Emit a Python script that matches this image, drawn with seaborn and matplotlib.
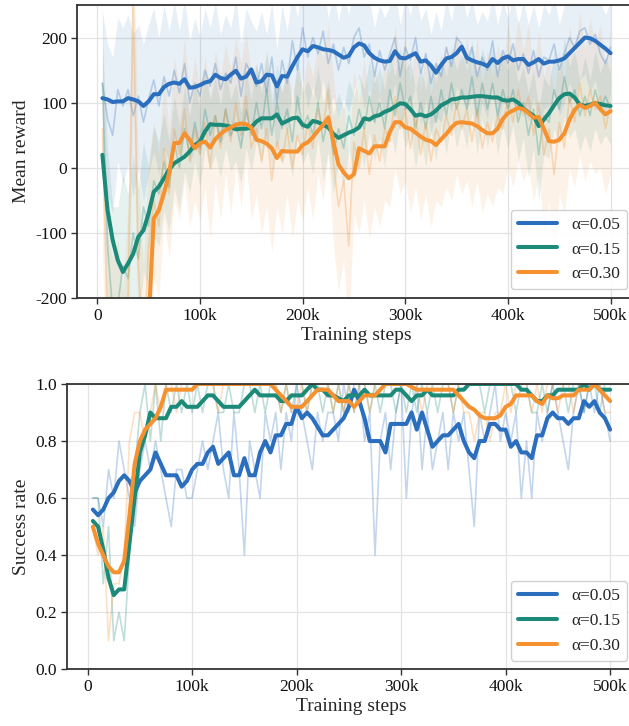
import matplotlib
matplotlib.use("Agg")
import matplotlib.pyplot as plt
import numpy as np
import pandas as pd
import seaborn as sns

sns.set_theme(style="whitegrid")
plt.rcParams['font.family'] = ['Liberation Serif', 'DejaVu Serif']
plt.rcParams['axes.unicode_minus'] = False

# training steps (every 5k)
steps = list(range(5000, 500001, 5000))

labels = ["α=0.05", "α=0.15", "α=0.30"]
colors = ["#2a6ebd", "#1b8a79", "#f5912f"]

# ---- mean reward (top) ----
reward_blue = [107, 105, 101, 102, 102, 107, 105, 102, 95, 102,
               113, 113, 124, 129, 131, 129, 136, 123, 124, 127,
               131, 133, 143, 138, 136, 143, 149, 137, 140, 151,
               131, 133, 143, 142, 125, 141, 140, 156, 170, 182,
               179, 187, 185, 182, 181, 179, 174, 169, 172, 185,
               191, 188, 176, 169, 165, 163, 164, 179, 169, 168,
               172, 176, 163, 165, 157, 146, 158, 168, 170, 176,
               186, 169, 165, 162, 160, 156, 167, 161, 168, 171,
               165, 167, 167, 158, 162, 167, 160, 163, 163, 165,
               168, 176, 184, 192, 200, 199, 195, 189, 183, 176]
reward_teal = [20, -65, -111, -142, -160, -147, -132, -106, -96, -70,
               -37, -29, -16, -3, 7, 12, 17, 25, 35, 40,
               56, 67, 66, 66, 65, 63, 59, 60, 60, 62,
               71, 76, 76, 76, 82, 68, 72, 76, 77, 66,
               63, 72, 70, 66, 62, 52, 46, 50, 54, 57,
               62, 76, 74, 79, 81, 86, 89, 94, 99, 98,
               90, 80, 82, 79, 82, 88, 96, 100, 105, 106,
               108, 108, 109, 110, 110, 109, 108, 108, 104, 103,
               105, 100, 91, 85, 80, 64, 74, 84, 96, 107,
               113, 114, 108, 97, 95, 97, 99, 98, 96, 95]
reward_orange = [-380, -420, -450, -470, -480, -470, -440, -400, -330, -240,
                 -78, -65, -39, -8, 38, 38, 53, 43, 30, 38,
                 40, 31, 44, 52, 58, 62, 66, 68, 67, 62,
                 43, 41, 37, 30, 15, 26, 25, 25, 25, 35,
                 39, 47, 57, 66, 77, 40, 5, -7, -16, -10,
                 30, 26, 22, 33, 33, 33, 55, 70, 70, 62,
                 60, 54, 48, 43, 41, 35, 44, 52, 62, 69,
                 70, 69, 68, 64, 58, 53, 53, 60, 75, 84,
                 88, 92, 90, 84, 77, 78, 60, 41, 40, 43,
                 53, 74, 89, 97, 92, 95, 100, 90, 82, 87]

raw_reward_blue = [130, 75, 50, 120, 95, 120, 80, 110, 70, 105,
                   135, 95, 140, 110, 150, 115, 160, 100, 130, 110,
                   150, 125, 160, 120, 145, 130, 170, 110, 160, 145,
                   125, 160, 115, 170, 100, 165, 130, 195, 150, 215,
                   170, 200, 175, 210, 160, 190, 150, 185, 160, 200,
                   215, 170, 190, 140, 180, 150, 175, 200, 140, 185,
                   165, 200, 145, 175, 130, 160, 140, 185, 155, 200,
                   190, 160, 185, 140, 170, 150, 195, 140, 180, 160,
                   190, 150, 175, 145, 180, 140, 170, 165, 190, 150,
                   175, 200, 185, 210, 215, 190, 205, 175, 160, 185]
raw_reward_teal = [130, -120, -220, -210, -150, -170, -100, -140, -60, -90,
                   -20, -40, 10, -30, 40, 0, 60, 20, 70, 30,
                   90, 50, 80, 40, 90, 50, 70, 30, 90, 50,
                   100, 60, 120, 50, 100, 60, 90, 40, 110, 60,
                   80, 50, 100, 40, 80, 20, 60, 30, 80, 50,
                   90, 60, 110, 70, 100, 60, 120, 80, 130, 90,
                   110, 60, 100, 60, 110, 70, 120, 80, 130, 90,
                   120, 90, 140, 80, 130, 90, 130, 80, 120, 90,
                   120, 70, 100, 50, 90, 20, 80, 70, 120, 90,
                   140, 100, 120, 80, 110, 80, 120, 90, 110, 90]
raw_reward_orange = [60, -250, -300, -260, -350, -200, 260, -150, -300, -120,
                     -50, -90, 30, -40, 60, 20, 90, 10, 60, 20,
                     70, 0, 80, 30, 90, 40, 100, 50, 110, 30,
                     60, 10, 60, -20, 40, 10, 60, 0, 50, 20,
                     70, 30, 90, 60, 120, 10, -60, -20, -120, 40,
                     0, 60, -10, 50, 10, 60, 40, 110, 60, 90,
                     30, 80, 20, 70, 10, 60, 40, 80, 50, 100,
                     60, 90, 40, 90, 30, 70, 40, 80, 60, 110,
                     70, 120, 80, 110, 50, 100, 20, 60, -10, 70,
                     30, 110, 70, 130, 80, 120, 90, 110, 60, 100]

std_reward_blue = [110, 115, 120, 110, 120, 115, 125, 110, 120, 115,
                   110, 105, 110, 100, 105, 95, 100, 95, 100, 90,
                   95, 90, 95, 85, 90, 85, 90, 80, 85, 80,
                   85, 80, 90, 85, 80, 85, 80, 75, 80, 75,
                   80, 75, 80, 75, 70, 80, 75, 80, 75, 80,
                   75, 80, 70, 75, 70, 80, 75, 70, 80, 75,
                   70, 75, 80, 70, 75, 80, 70, 75, 70, 75,
                   80, 70, 75, 80, 70, 75, 70, 80, 75, 70,
                   75, 70, 80, 75, 70, 75, 80, 70, 75, 70,
                   75, 70, 80, 75, 70, 75, 70, 80, 75, 70]
std_reward_teal = [60, 150, 160, 150, 140, 130, 120, 110, 100, 90,
                   85, 80, 75, 70, 70, 65, 65, 60, 60, 60,
                   60, 55, 60, 55, 60, 55, 60, 55, 60, 55,
                   60, 55, 60, 55, 60, 55, 60, 55, 60, 55,
                   55, 60, 55, 60, 55, 60, 55, 60, 55, 60,
                   55, 60, 55, 60, 55, 60, 55, 60, 55, 60,
                   55, 60, 55, 60, 55, 60, 55, 60, 55, 60,
                   55, 60, 55, 60, 55, 60, 55, 60, 55, 60,
                   55, 60, 55, 65, 60, 70, 60, 55, 60, 55,
                   60, 55, 60, 55, 60, 55, 60, 55, 60, 55]
std_reward_orange = [190, 150, 160, 150, 160, 140, 150, 140, 150, 130,
                     120, 110, 110, 100, 110, 100, 110, 100, 110, 100,
                     100, 110, 100, 110, 100, 110, 100, 110, 100, 110,
                     100, 110, 120, 110, 100, 110, 100, 110, 100, 100,
                     100, 110, 100, 110, 100, 130, 130, 120, 130, 110,
                     100, 110, 100, 110, 100, 110, 100, 110, 100, 110,
                     100, 110, 100, 110, 100, 110, 100, 110, 100, 110,
                     100, 110, 100, 110, 100, 110, 100, 110, 100, 110,
                     100, 110, 100, 110, 100, 110, 120, 110, 120, 110,
                     100, 110, 100, 110, 100, 110, 100, 110, 100, 110]

# ---- success rate (bottom) ----
success_blue = [0.56, 0.54, 0.56, 0.60, 0.62, 0.66, 0.68, 0.66, 0.62, 0.66,
                0.68, 0.70, 0.76, 0.72, 0.68, 0.68, 0.68, 0.64, 0.66, 0.70,
                0.72, 0.72, 0.76, 0.78, 0.72, 0.74, 0.76, 0.68, 0.68, 0.74,
                0.68, 0.68, 0.76, 0.80, 0.76, 0.82, 0.82, 0.86, 0.86, 0.92,
                0.88, 0.90, 0.88, 0.85, 0.82, 0.82, 0.84, 0.86, 0.88, 0.92,
                0.98, 0.94, 0.88, 0.80, 0.80, 0.80, 0.76, 0.86, 0.86, 0.86,
                0.86, 0.90, 0.84, 0.90, 0.84, 0.78, 0.80, 0.82, 0.82, 0.84,
                0.86, 0.80, 0.76, 0.74, 0.80, 0.80, 0.86, 0.86, 0.84, 0.84,
                0.78, 0.80, 0.76, 0.76, 0.74, 0.82, 0.82, 0.88, 0.90, 0.88,
                0.88, 0.86, 0.88, 0.88, 0.94, 0.92, 0.94, 0.90, 0.88, 0.84]
success_teal = [0.52, 0.50, 0.42, 0.32, 0.26, 0.28, 0.28, 0.44, 0.60, 0.76,
                0.82, 0.90, 0.88, 0.88, 0.88, 0.92, 0.92, 0.94, 0.92, 0.92,
                0.92, 0.94, 0.96, 0.96, 0.94, 0.92, 0.92, 0.92, 0.92, 0.94,
                0.96, 0.98, 0.96, 0.96, 0.96, 0.96, 0.94, 0.94, 0.96, 0.96,
                0.96, 0.98, 1.00, 0.98, 0.98, 0.96, 0.96, 0.95, 0.94, 0.96,
                0.96, 0.96, 0.98, 0.96, 0.96, 0.96, 0.96, 0.96, 0.98, 0.98,
                0.96, 0.94, 0.96, 0.96, 0.98, 0.96, 0.96, 0.96, 0.96, 0.96,
                0.98, 0.98, 1.00, 1.00, 1.00, 1.00, 1.00, 1.00, 1.00, 1.00,
                1.00, 1.00, 0.98, 0.98, 0.96, 0.94, 0.94, 0.96, 0.96, 0.98,
                0.98, 0.98, 0.98, 0.98, 1.00, 0.98, 1.00, 0.98, 0.98, 0.98]
success_orange = [0.50, 0.44, 0.40, 0.36, 0.34, 0.34, 0.38, 0.54, 0.72, 0.80,
                  0.84, 0.86, 0.88, 0.92, 0.98, 0.98, 0.98, 0.98, 0.98, 0.98,
                  1.00, 1.00, 1.00, 1.00, 1.00, 1.00, 1.00, 1.00, 1.00, 1.00,
                  1.00, 1.00, 1.00, 1.00, 1.00, 0.98, 0.96, 0.94, 0.92, 0.92,
                  0.92, 0.94, 0.96, 0.98, 0.98, 0.98, 0.96, 0.94, 0.94, 0.94,
                  0.92, 0.94, 0.96, 0.96, 0.96, 0.98, 1.00, 1.00, 1.00, 1.00,
                  1.00, 0.99, 0.98, 0.98, 0.98, 0.98, 0.98, 0.98, 0.98, 0.98,
                  0.96, 0.94, 0.92, 0.91, 0.89, 0.88, 0.88, 0.88, 0.89, 0.92,
                  0.93, 0.96, 0.96, 0.96, 0.96, 0.94, 0.93, 0.96, 0.95, 0.95,
                  0.96, 0.96, 0.96, 0.98, 0.98, 0.98, 1.00, 0.98, 0.96, 0.94]

raw_success_blue = [0.60, 0.60, 0.50, 0.70, 0.60, 0.80, 0.70, 0.60, 0.50, 0.70,
                    0.80, 0.70, 0.80, 0.70, 0.60, 0.50, 0.70, 0.70, 0.60, 0.60,
                    0.70, 0.80, 0.70, 0.80, 0.90, 0.70, 0.60, 0.90, 0.70, 0.40,
                    0.80, 0.70, 0.60, 0.90, 0.80, 0.90, 0.70, 0.90, 0.80, 1.00,
                    0.90, 0.80, 0.70, 0.90, 0.80, 0.90, 0.90, 0.80, 1.00, 0.90,
                    1.00, 1.00, 0.80, 0.90, 0.40, 0.80, 0.90, 0.70, 0.90, 1.00,
                    0.60, 0.90, 1.00, 0.70, 0.90, 0.70, 0.80, 0.90, 0.70, 0.90,
                    0.80, 0.90, 0.70, 0.50, 0.90, 0.80, 0.90, 1.00, 0.80, 0.90,
                    0.80, 0.90, 0.60, 0.80, 0.60, 0.90, 0.80, 0.90, 1.00, 0.90,
                    0.80, 0.70, 0.90, 1.00, 0.90, 1.00, 0.90, 1.00, 0.90, 0.80]
raw_success_teal = [0.60, 0.60, 0.30, 0.50, 0.10, 0.20, 0.10, 0.40, 0.70, 0.90,
                    1.00, 0.80, 1.00, 0.80, 1.00, 0.90, 1.00, 0.90, 1.00, 0.90,
                    1.00, 0.90, 1.00, 1.00, 0.90, 0.90, 1.00, 0.90, 0.90, 1.00,
                    1.00, 0.90, 1.00, 0.90, 1.00, 1.00, 0.90, 1.00, 0.90, 1.00,
                    1.00, 0.90, 1.00, 1.00, 0.90, 1.00, 0.90, 1.00, 0.90, 1.00,
                    0.90, 1.00, 1.00, 0.90, 1.00, 0.90, 1.00, 1.00, 0.90, 1.00,
                    0.90, 1.00, 0.90, 1.00, 0.90, 1.00, 0.90, 1.00, 1.00, 0.90,
                    1.00, 1.00, 1.00, 1.00, 1.00, 0.90, 1.00, 1.00, 1.00, 1.00,
                    1.00, 0.90, 1.00, 1.00, 0.90, 0.90, 1.00, 0.90, 1.00, 1.00,
                    1.00, 0.90, 1.00, 1.00, 0.90, 1.00, 1.00, 0.90, 1.00, 1.00]
raw_success_orange = [0.50, 0.40, 0.50, 0.10, 0.30, 0.30, 0.40, 0.80, 0.90, 0.90,
                      0.80, 0.90, 1.00, 0.90, 1.00, 1.00, 0.90, 1.00, 1.00, 1.00,
                      1.00, 1.00, 1.00, 1.00, 0.90, 1.00, 1.00, 1.00, 1.00, 1.00,
                      1.00, 1.00, 1.00, 1.00, 1.00, 1.00, 0.90, 1.00, 0.90, 0.90,
                      1.00, 0.90, 1.00, 1.00, 1.00, 1.00, 0.90, 1.00, 0.90, 1.00,
                      0.90, 1.00, 1.00, 0.90, 1.00, 1.00, 1.00, 1.00, 1.00, 1.00,
                      1.00, 1.00, 1.00, 0.90, 1.00, 1.00, 1.00, 1.00, 1.00, 0.90,
                      1.00, 0.90, 0.90, 0.80, 0.90, 0.90, 0.80, 0.90, 0.90, 1.00,
                      0.90, 1.00, 1.00, 1.00, 0.90, 1.00, 0.90, 1.00, 1.00, 0.90,
                      1.00, 1.00, 0.90, 1.00, 1.00, 1.00, 1.00, 1.00, 0.90, 0.90]

reward_smooth = [reward_blue, reward_teal, reward_orange]
reward_raw = [raw_reward_blue, raw_reward_teal, raw_reward_orange]
reward_std = [std_reward_blue, std_reward_teal, std_reward_orange]
success_smooth = [success_blue, success_teal, success_orange]
success_raw = [raw_success_blue, raw_success_teal, raw_success_orange]

xticks = [0, 100000, 200000, 300000, 400000, 500000]
xtick_labels = ["0", "100k", "200k", "300k", "400k", "500k"]

fig = plt.figure(figsize=(6.29, 7.26), dpi=100)
ax1 = fig.add_axes([0.1224, 0.5895, 0.8887, 0.4036])
ax2 = fig.add_axes([0.1065, 0.0781, 0.9046, 0.393])

x = np.array(steps)

# top panel: bands, raw curves, smoothed curves
for raw, sd, col in zip(reward_raw, reward_std, colors):
    raw = np.array(raw, dtype=float)
    sd = np.array(sd, dtype=float)
    ax1.fill_between(x, raw - sd, raw + sd, color=col, alpha=0.11, lw=0)
for raw, col in zip(reward_raw, colors):
    sns.lineplot(x=steps, y=raw, ax=ax1, color=col, lw=1.2, alpha=0.28)
for sm, col, lab in zip(reward_smooth, colors, labels):
    sns.lineplot(x=steps, y=sm, ax=ax1, color=col, lw=2.9, label=lab)

# bottom panel: raw curves, smoothed curves
for raw, col in zip(success_raw, colors):
    sns.lineplot(x=steps, y=raw, ax=ax2, color=col, lw=1.2, alpha=0.28)
for sm, col, lab in zip(success_smooth, colors, labels):
    sns.lineplot(x=steps, y=sm, ax=ax2, color=col, lw=2.9, label=lab)

ax1.set_ylim(-200, 250)
ax1.set_yticks([-200, -100, 0, 100, 200])
ax1.set_ylabel("Mean reward", fontsize=14)
ax2.set_ylim(0, 1.0)
ax2.set_yticks([0.0, 0.2, 0.4, 0.6, 0.8, 1.0])
ax2.set_yticklabels(["0.0", "0.2", "0.4", "0.6", "0.8", "1.0"])
ax2.set_ylabel("Success rate", fontsize=14)

for ax in (ax1, ax2):
    ax.set_xlim(-19750, 524750)
    ax.set_xticks(xticks)
    ax.set_xticklabels(xtick_labels)
    ax.set_xlabel("Training steps", fontsize=14, labelpad=2)
    ax.set_facecolor("white")
    ax.grid(True, color="#e3e3e3", lw=0.9)
    ax.tick_params(axis="both", which="major", labelsize=12.5, direction="out",
                   length=4, width=1, color="#333333", left=True, bottom=True,
                   pad=3, labelcolor="#111111")
    for sp in ax.spines.values():
        sp.set_color("#333333")
        sp.set_linewidth(1.3)
    leg = ax.legend(loc="lower right", fontsize=12.5, frameon=True,
                    fancybox=True, framealpha=0.9, edgecolor="#cccccc",
                    handlelength=2.3)
    for line in leg.get_lines():
        line.set_linewidth(2.9)

fig.savefig("out.png", dpi=100)
